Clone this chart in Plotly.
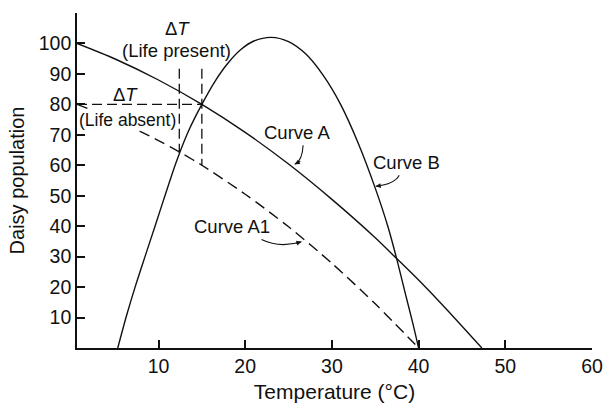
import plotly.graph_objects as go

# ---- data ----
curve_a_t = [0.6, 5, 10, 15, 20, 25, 30, 35, 37.5, 40, 43, 47.3]
curve_a_y = [100, 94.9, 88, 80, 70.8, 60.4, 48.8, 36.2, 29.3, 22.3, 13.4, 0]

curve_a1_t = [0.6, 5, 10, 12.4, 15, 20, 25, 30, 35, 40]
curve_a1_y = [80, 75, 68.1, 64.4, 60, 50.5, 39.8, 27.8, 14.5, 0]

curve_b_t = [5.3, 6.3, 7.3, 8.5, 9.6, 10.8, 12.1, 13.5, 15, 16.5, 18, 19.5, 21, 23,
             25, 27, 29, 31, 33, 35, 36.5, 37.5, 38.5, 39.3, 40]
curve_b_y = [0, 10.5, 20, 30.5, 40, 50.5, 61.5, 71.5, 80, 87.5, 93.5, 98, 100.8, 102,
             100.6, 96.5, 89.5, 80, 67.5, 52.5, 39.5, 29, 17.5, 8.5, 0]

# Delta-T guide lines
guide_h_t = [0.6, 15]
guide_h_y = [80, 80]
guide_v1_t = [12.4, 12.4]
guide_v1_y = [91.7, 64]
guide_v2_t = [15, 15]
guide_v2_y = [91.7, 60]

x_ticks = [10, 20, 30, 40, 50, 60]
y_ticks = [10, 20, 30, 40, 50, 60, 70, 80, 90, 100]

FONT = "Liberation Sans, Arial, sans-serif"
BLACK = "#111111"

fig = go.Figure()
fig.add_trace(go.Scatter(x=curve_a_t, y=curve_a_y, mode="lines",
                         line=dict(color=BLACK, width=1.4, shape="spline", smoothing=0.8)))
fig.add_trace(go.Scatter(x=curve_a1_t, y=curve_a1_y, mode="lines",
                         line=dict(color=BLACK, width=1.4, shape="spline", smoothing=0.8,
                                   dash="11px,6px")))
fig.add_trace(go.Scatter(x=curve_b_t, y=curve_b_y, mode="lines",
                         line=dict(color=BLACK, width=1.4, shape="spline", smoothing=0.8)))
for gx, gy in [(guide_h_t, guide_h_y), (guide_v1_t, guide_v1_y), (guide_v2_t, guide_v2_y)]:
    fig.add_trace(go.Scatter(x=gx, y=gy, mode="lines",
                             line=dict(color=BLACK, width=1.3, dash="10px,5px")))

ann_font = dict(family=FONT, size=18.5, color=BLACK)
annotations = [
    dict(x=12.23, y=104.8, text="Δ<i>T</i>"),
    dict(x=12.11, y=97.7, text="(Life present)"),
    dict(x=6.23, y=83.2, text="Δ<i>T</i>"),
    dict(x=6.45, y=75.0, text="(Life absent)", bgcolor="white", borderpad=0,
         font=dict(family=FONT, size=17.5, color=BLACK)),
    dict(x=25.92, y=70.9, text="Curve A"),
    dict(x=38.6, y=60.8, text="Curve B"),
    dict(x=18.42, y=39.8, text="Curve A1"),
]
annotations = [dict(dict(xref="x", yref="y", showarrow=False, font=ann_font,
                         xanchor="center", yanchor="middle"), **a) for a in annotations]

# arrowheads for the curved pointers
heads = [
    dict(x=25.72, y=60.3, ax=7, ay=-4),
    dict(x=35.06, y=53.1, ax=7, ay=-1),
    dict(x=26.49, y=34.9, ax=-7, ay=2),
]
for h in heads:
    annotations.append(dict(h, xref="x", yref="y", axref="pixel", ayref="pixel", text="",
                            showarrow=True, arrowhead=2, arrowsize=0.9, arrowwidth=1.1,
                            arrowcolor=BLACK, standoff=0, startstandoff=0))

shapes = [
    dict(type="path", xref="x", yref="y", path="M 26.68,66.6 Q 26.6,61.6 25.72,60.3",
         line=dict(color=BLACK, width=1.1)),
    dict(type="path", xref="x", yref="y", path="M 37.76,56.7 Q 37.25,53.8 35.06,53.1",
         line=dict(color=BLACK, width=1.1)),
    dict(type="path", xref="x", yref="y", path="M 21.88,35.6 Q 23.99,32.7 26.49,34.9",
         line=dict(color=BLACK, width=1.1)),
]

fig.update_layout(
    width=603, height=404,
    margin=dict(l=77, r=11, t=13, b=56),
    paper_bgcolor="white", plot_bgcolor="white",
    showlegend=False,
    font=dict(family=FONT, color=BLACK),
    annotations=annotations,
    shapes=shapes,
)
fig.update_xaxes(range=[0.6, 60], tickvals=x_ticks, ticktext=[str(v) for v in x_ticks],
                 automargin=False,
                 showgrid=False, zeroline=False, showline=True, linecolor=BLACK, linewidth=1.6,
                 ticks="inside", ticklen=8, tickwidth=1.5, tickcolor=BLACK,
                 tickfont=dict(family=FONT, size=19.5, color=BLACK),
                 title=dict(text="Temperature (°C)", font=dict(family=FONT, size=21, color=BLACK),
                            standoff=8))
fig.update_yaxes(range=[0, 110], tickvals=y_ticks, ticktext=[str(v) for v in y_ticks],
                 automargin=False,
                 showgrid=False, zeroline=False, showline=True, linecolor=BLACK, linewidth=1.6,
                 ticks="inside", ticklen=8, tickwidth=1.5, tickcolor=BLACK,
                 tickfont=dict(family=FONT, size=19.5, color=BLACK),
                 title=dict(text="Daisy population", font=dict(family=FONT, size=20, color=BLACK),
                            standoff=9))

fig.write_html("out.html")
